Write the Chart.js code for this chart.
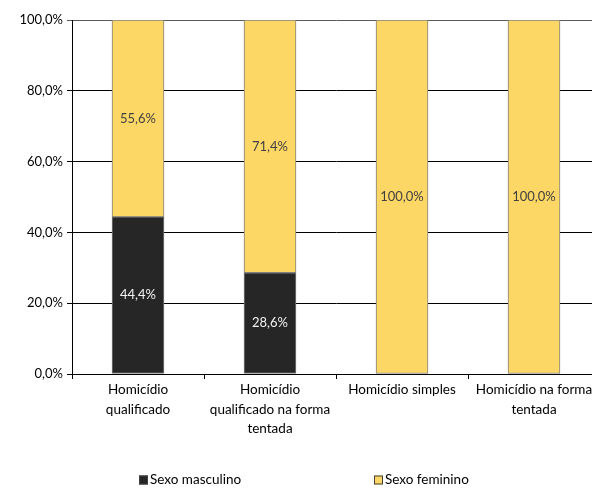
<!DOCTYPE html>
<html lang="pt">
<head>
    <meta charset="UTF-8">
    <title>Homicídios por sexo</title>
    <script src="https://cdn.jsdelivr.net/npm/chart.js"></script>
    <style>
        html, body { margin: 0; padding: 0; overflow: hidden; background: #fff; }
        #wrap { width: 600px; height: 488px; }
    </style>
</head>
<body>
    <div id="wrap">
        <canvas id="chart" width="600" height="488"></canvas>
    </div>

    <script>
        // Categories and series (percent)
        const categories = [
            ['Homicídio', 'qualificado'],
            ['Homicídio', 'qualificado na forma', 'tentada'],
            ['Homicídio simples'],
            ['Homicídio na forma', 'tentada']
        ];
        const masculino = [44.4, 28.6, 0, 0];
        const feminino = [55.6, 71.4, 100, 100];
        const yTicks = [0, 20, 40, 60, 80, 100];

        const FONT = 'Lato, "Open Sans", sans-serif';

        function pct(v) {
            return v.toFixed(1).replace('.', ',') + '%';
        }

        // draws the value in the middle of each segment
        const segmentLabels = {
            id: 'segmentLabels',
            afterDatasetsDraw(chart) {
                const ctx = chart.ctx;
                ctx.save();
                ctx.font = '13px ' + FONT;
                ctx.textAlign = 'center';
                ctx.textBaseline = 'middle';
                chart.data.datasets.forEach((ds, i) => {
                    const meta = chart.getDatasetMeta(i);
                    meta.data.forEach((bar, j) => {
                        const v = ds.data[j];
                        if (!v) return;
                        ctx.fillStyle = i === 0 ? '#f2f2f2' : '#404040';
                        ctx.fillText(pct(v), bar.x, (bar.y + bar.base) / 2);
                    });
                });
                ctx.restore();
            }
        };

        // legend drawn by hand, items spread like the original
        const spreadLegend = {
            id: 'spreadLegend',
            afterDraw(chart) {
                const ctx = chart.ctx;
                const area = chart.chartArea;
                const offsets = [67, 302];
                const y = 480;
                ctx.save();
                ctx.font = '13.5px ' + FONT;
                ctx.textBaseline = 'middle';
                ctx.textAlign = 'left';
                chart.data.datasets.forEach((ds, i) => {
                    const x = area.left + offsets[i];
                    ctx.fillStyle = ds.backgroundColor;
                    ctx.fillRect(x, y - 4.5, 9, 9);
                    ctx.strokeStyle = '#404040';
                    ctx.lineWidth = 1;
                    ctx.strokeRect(x + 0.5, y - 4, 8, 8);
                    ctx.fillStyle = '#000';
                    ctx.fillText(ds.label, x + 11, y);
                });
                ctx.restore();
            }
        };

        new Chart(document.getElementById('chart'), {
            type: 'bar',
            data: {
                labels: categories,
                datasets: [
                    {
                        label: 'Sexo masculino',
                        data: masculino,
                        backgroundColor: '#262626',
                        borderColor: '#7f7f7f',
                        borderWidth: 1,
                        borderSkipped: false
                    },
                    {
                        label: 'Sexo feminino',
                        data: feminino,
                        backgroundColor: '#fdd766',
                        borderColor: '#7f7f7f',
                        borderWidth: 1,
                        borderSkipped: false
                    }
                ]
            },
            options: {
                responsive: false,
                animation: false,
                layout: { padding: { top: 20, right: 0, left: 0, bottom: 54 } },
                barThickness: 52,
                plugins: {
                    tooltip: { enabled: false },
                    legend: { display: false }
                },
                scales: {
                    x: {
                        stacked: true,
                        border: { color: '#000', width: 1 },
                        grid: {
                            drawOnChartArea: false,
                            drawTicks: true,
                            tickLength: 5,
                            color: '#000'
                        },
                        ticks: {
                            color: '#000',
                            font: { family: FONT, size: 13.5, lineHeight: 1.45 },
                            maxRotation: 0,
                            autoSkip: false,
                            padding: 1
                        },
                        afterFit(scale) { scale.height = 60; }
                    },
                    y: {
                        stacked: true,
                        min: 0,
                        max: 100,
                        border: { color: '#000', width: 1 },
                        grid: {
                            tickLength: 5,
                            color: ctx => ctx.tick && ctx.tick.value === 100 ? '#595959' : '#000'
                        },
                        afterBuildTicks(scale) {
                            scale.ticks = yTicks.map(v => ({ value: v }));
                        },
                        ticks: {
                            color: '#000',
                            font: { family: FONT, size: 13 },
                            padding: 4,
                            callback: v => pct(v)
                        },
                        afterFit(scale) { scale.width = 72; }
                    }
                }
            },
            plugins: [segmentLabels, spreadLegend]
        });
    </script>
</body>
</html>
